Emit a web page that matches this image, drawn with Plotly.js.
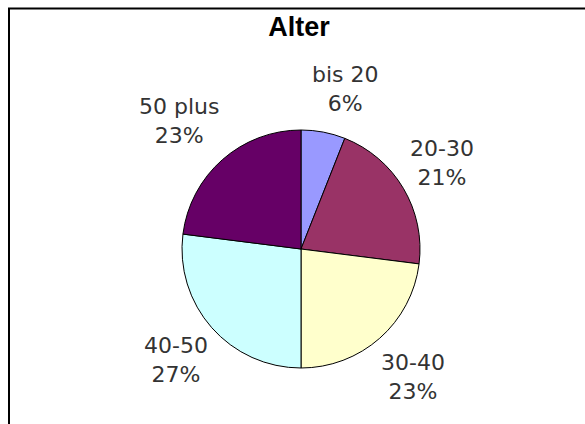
<!DOCTYPE html>
<html>
<head>
<meta charset="utf-8">
<script src="https://cdn.plot.ly/plotly-3.0.1.min.js"></script>
<style>html,body{margin:0;padding:0;background:#fff;}#chart{width:585px;height:424px;}</style>
</head>
<body>
<div id="chart"></div>
<script>
const categories = ["bis 20", "20-30", "30-40", "40-50", "50 plus"];
const shares = [6, 21, 23, 27, 23];
const colors = ["#9999FF", "#993366", "#FFFFCC", "#CCFFFF", "#660066"];
// label anchor positions in pixels (layout only)
const labelPos = [[345, 89], [442, 163], [413, 377], [176, 360], [179, 121]];

const W = 585, H = 424;
const px = x => x / W;
const py = y => 1 - y / H;
const total = shares.reduce((a, b) => a + b, 0);

const trace = {
  type: "pie",
  labels: categories,
  values: shares,
  sort: false,
  direction: "clockwise",
  rotation: 0,
  textinfo: "none",
  hoverinfo: "label+percent",
  marker: { colors: colors, line: { color: "#000000", width: 1 } },
  domain: { x: [px(182), px(420)], y: [py(368), py(130)] },
  showlegend: false
};

const annotations = categories.map((c, i) => ({
  xref: "paper", yref: "paper",
  x: px(labelPos[i][0]), y: py(labelPos[i][1]),
  xanchor: "center", yanchor: "middle",
  text: c + "<br>" + Math.round(shares[i] / total * 100) + "%",
  showarrow: false,
  align: "center",
  font: { family: "'DejaVu Sans', Verdana, sans-serif", size: 22, color: "#333333" }
}));

const layout = {
  width: W, height: H,
  margin: { l: 0, r: 0, t: 0, b: 0 },
  paper_bgcolor: "#ffffff",
  title: {
    text: "<b>Alter</b>",
    x: px(299), xanchor: "center",
    y: py(27), yanchor: "middle",
    font: { family: "Arial, 'Liberation Sans', sans-serif", size: 27, color: "#000000" }
  },
  annotations: annotations,
  shapes: [
    { type: "line", xref: "paper", yref: "paper", x0: px(9), x1: px(9), y0: 0, y1: py(8), line: { color: "#000", width: 2 } },
    { type: "line", xref: "paper", yref: "paper", x0: px(8), x1: 1, y0: py(8.5), y1: py(8.5), line: { color: "#000", width: 2 } }
  ]
};

Plotly.newPlot("chart", [trace], layout, { displayModeBar: false, staticPlot: true });
</script>
</body>
</html>
